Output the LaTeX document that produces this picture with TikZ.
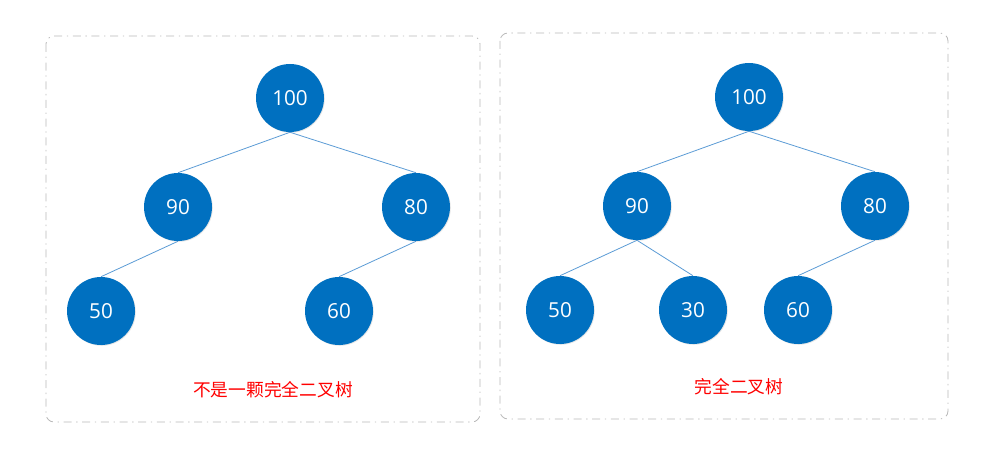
\documentclass[tikz,border=0pt]{standalone}
\usepackage{fontspec}
\setmainfont{Open Sans}
\newfontfamily\cjk{Noto Sans CJK SC}
\usepackage{tikz}
\usetikzlibrary{shadows}
\definecolor{colornode}{RGB}{  0,112,192}
\definecolor{colorline}{RGB}{ 91,155,213}
\definecolor{colorbox} {RGB}{185,185,185}

\begin{document}
\begin{tikzpicture}[
    x=0.75pt, y=-0.75pt,
    font={\fontsize{15.5}{18}\selectfont},
    num/.style={circle,fill=colornode,text=white,minimum size=51pt,inner sep=0pt,
        drop shadow={opacity=0.2,shadow xshift=0.6pt,shadow yshift=-0.6pt}},
    edge/.style={draw=colorline,line width=0.6pt},
    frame/.style={draw=colorbox,line width=0.6pt,rounded corners=6pt,
        dash pattern=on 6pt off 3.5pt on 1pt off 3.5pt},
    txt/.style={font={\cjk\fontsize{13.3}{15}\selectfont},text=red,inner sep=0pt}
]

    \useasboundingbox (0, 0) rectangle (1001, 453);

    \draw[frame] (46, 36) rectangle (480, 422);
    \draw[frame] (500, 33) rectangle (948, 419);

    % left tree
    \node[num] (lroot) at (290, 98) {100};
    \node[num] (l90) at (178, 207) {90};
    \node[num] (l80) at (416, 207) {80};
    \node[num] (l50) at (101, 311) {50};
    \node[num] (l60) at (339, 311) {60};

    \draw[edge] (lroot.south) -- (l90.north);
    \draw[edge] (lroot.south) -- (l80.north);
    \draw[edge] (l90.south) -- (l50.north);
    \draw[edge] (l80.south) -- (l60.north);

    \node[txt] (lnote) at (273, 390) {不是一颗完全二叉树};

    % right tree
    \node[num] (rroot) at (749, 97) {100};
    \node[num] (r90) at (637, 206) {90};
    \node[num] (r80) at (875, 206) {80};
    \node[num] (r50) at (560, 310) {50};
    \node[num] (r30) at (693, 310) {30};
    \node[num] (r60) at (798, 310) {60};

    \draw[edge] (rroot.south) -- (r90.north);
    \draw[edge] (rroot.south) -- (r80.north);
    \draw[edge] (r90.south) -- (r50.north);
    \draw[edge] (r90.south) -- (r30.north);
    \draw[edge] (r80.south) -- (r60.north);

    \node[txt] (rnote) at (739, 387) {完全二叉树};

\end{tikzpicture}
\end{document}
